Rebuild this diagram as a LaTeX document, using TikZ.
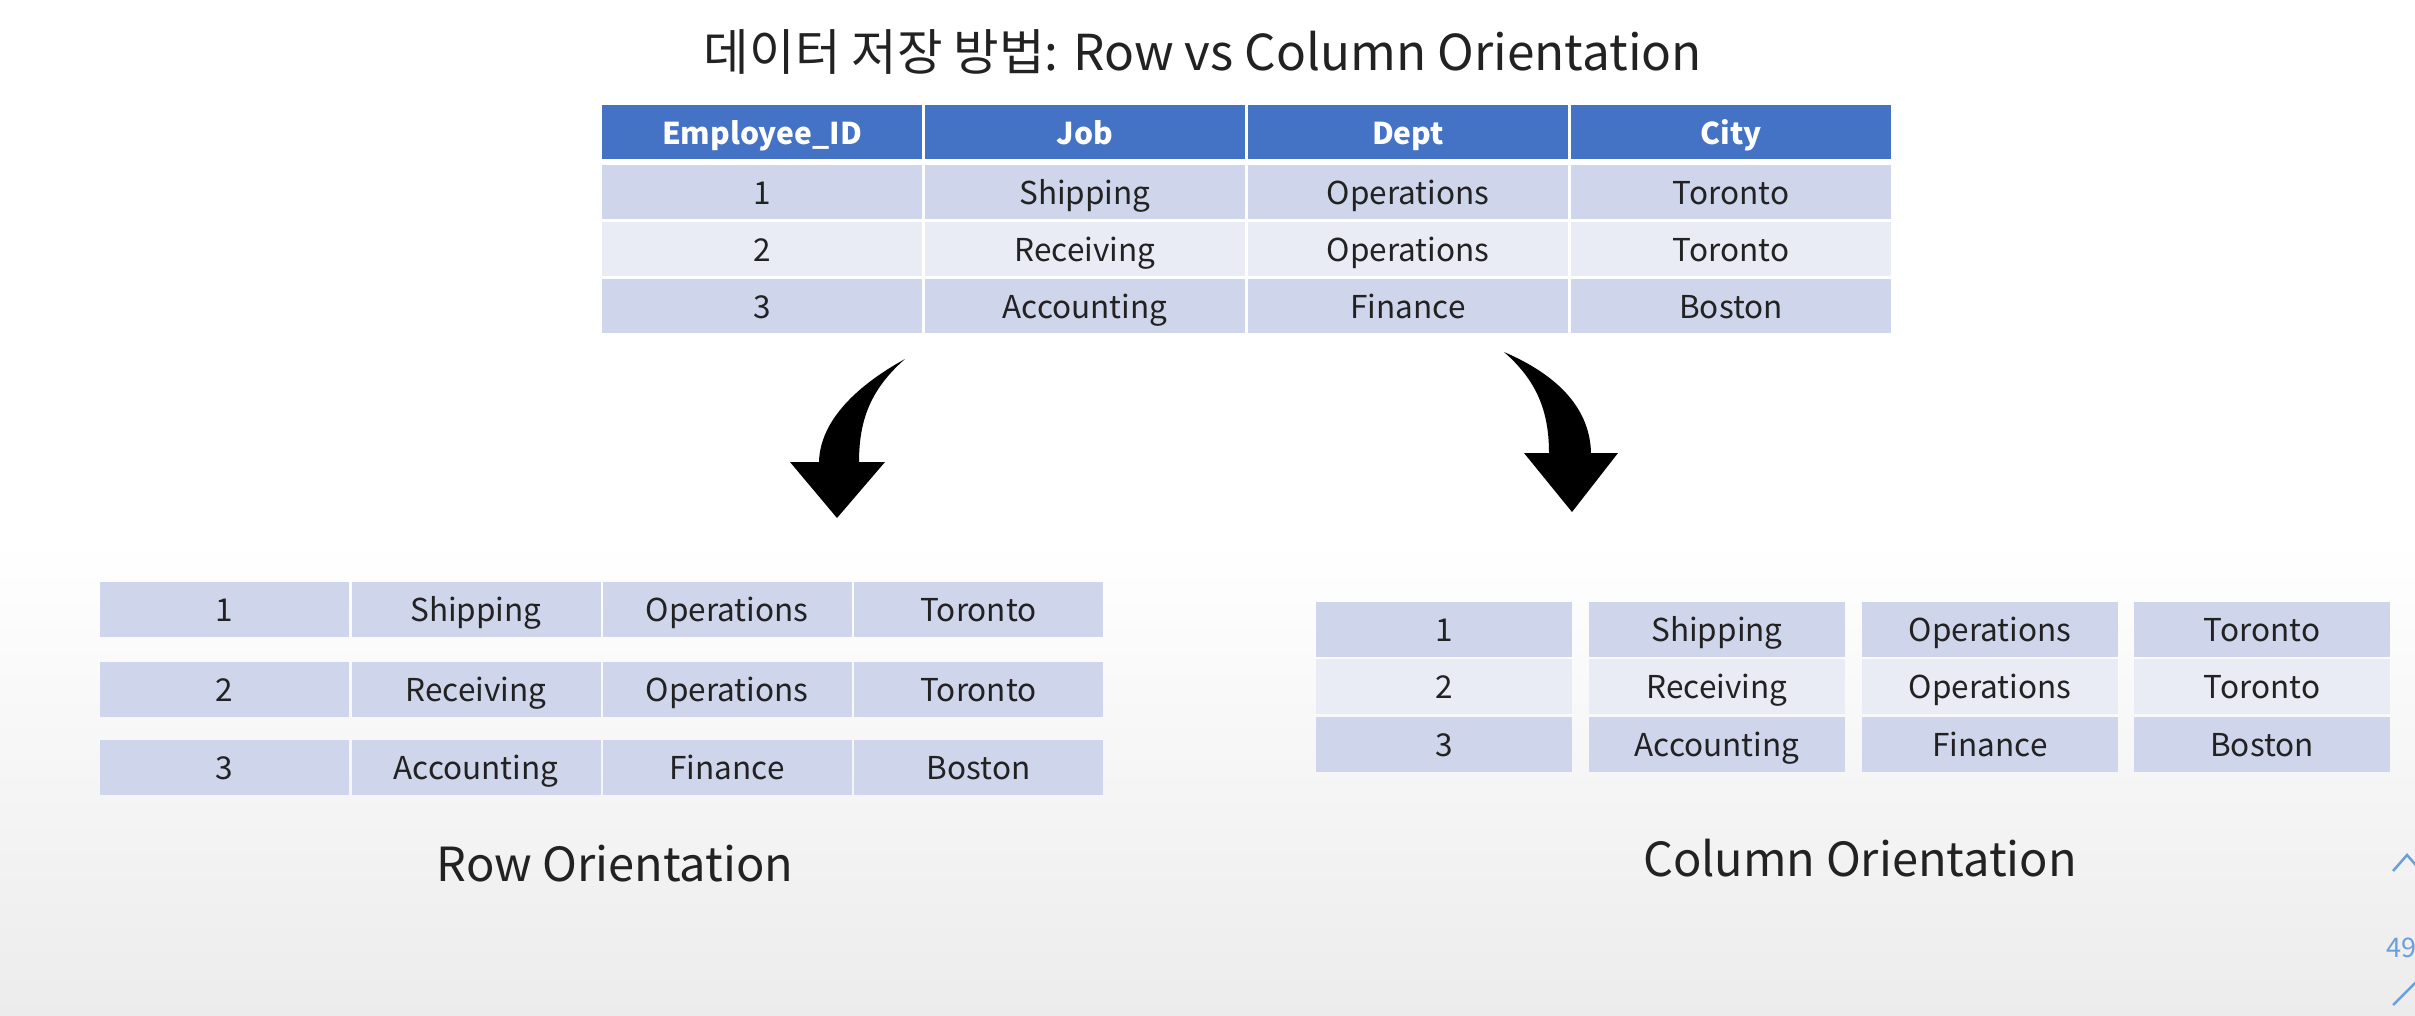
\documentclass[tikz,border=0pt]{standalone}
\usepackage{fontspec}
\setmainfont{Noto Sans CJK KR}
\definecolor{hdrblue}{HTML}{4472C4}
\definecolor{rowdark}{HTML}{CFD5EA}
\definecolor{rowlight}{HTML}{E9EBF5}
\definecolor{txt}{HTML}{222222}
\definecolor{bgbot}{HTML}{ECECEC}
\definecolor{uiblue}{HTML}{6C9EDB}
\begin{document}
\begin{tikzpicture}[x=1pt,y=-1pt,
  cellbase/.style={rectangle, inner sep=0pt, text=txt, text height=29pt, text depth=5pt,
    font=\fontsize{31.5}{38}\selectfont},
  topcell/.style={cellbase, minimum width=320pt, minimum height=54pt},
  hdrcell/.style={topcell, fill=hdrblue, text=white, font=\fontsize{30}{36}\selectfont\bfseries},
  rowcell/.style={cellbase, minimum width=249pt, minimum height=55pt, fill=rowdark},
  colcell/.style={cellbase, minimum width=256pt, minimum height=55pt},
  caption/.style={anchor=base, text=txt, font=\fontsize{47}{56}\selectfont},
  titletext/.style={anchor=base, text=txt, font=\fontsize{49.5}{58}\selectfont},
  bigarrow/.style={fill=black}
]
\useasboundingbox (0,0) rectangle (2415,1015);
\fill[white] (0,0) rectangle (2415,1015);
\shade[top color=white, bottom color=bgbot] (0,540) rectangle (2415,1015);

% title
\node[titletext] (title) at (1203,70) {데이터 저장 방법: Row vs Column Orientation};

% top table
\foreach \x/\t [count=\c] in {762/Employee\_ID, 1085/Job, 1408/Dept, 1731/City}
  \node[hdrcell] (top-h-\c) at (\x,132) {\t};
\foreach \y/\a/\b/\e/\d/\s [count=\r] in {192/1/Shipping/Operations/Toronto/rowdark,
    249/2/Receiving/Operations/Toronto/rowlight, 306/3/Accounting/Finance/Boston/rowdark}{
  \node[topcell, fill=\s] (top-\r-1) at (762,\y) {\a};
  \node[topcell, fill=\s] (top-\r-2) at (1085,\y) {\b};
  \node[topcell, fill=\s] (top-\r-3) at (1408,\y) {\e};
  \node[topcell, fill=\s] (top-\r-4) at (1731,\y) {\d};
}

% curved arrows
\fill[bigarrow] (905,359) .. controls (858,385) and (820,420) .. (819,462)
  -- (790,462) -- (837,518) -- (885,462) -- (859,462)
  .. controls (859,418) and (872,388) .. (905,359) -- cycle;
\fill[bigarrow] (1504,352) .. controls (1560,376) and (1590,410) .. (1591,453)
  -- (1618,453) -- (1572,512) -- (1524,453) -- (1549,453)
  .. controls (1549,410) and (1536,380) .. (1504,352) -- cycle;

% row orientation
\foreach \y/\a/\b/\e/\d [count=\r] in {609.5/1/Shipping/Operations/Toronto,
    689.5/2/Receiving/Operations/Toronto, 767.5/3/Accounting/Finance/Boston}{
  \node[rowcell] (row-\r-1) at (224.5,\y) {\a};
  \node[rowcell] (row-\r-2) at (476,\y) {\b};
  \node[rowcell] (row-\r-3) at (727,\y) {\e};
  \node[rowcell] (row-\r-4) at (978.5,\y) {\d};
}
\node[caption] (rowcap) at (615,881) {Row Orientation};

% column orientation
\foreach \y/\a/\b/\e/\d/\s [count=\r] in {629.5/1/Shipping/Operations/Toronto/rowdark,
    686.5/2/Receiving/Operations/Toronto/rowlight, 744.5/3/Accounting/Finance/Boston/rowdark}{
  \node[colcell, fill=\s] (col-\r-1) at (1444,\y) {\a};
  \node[colcell, fill=\s] (col-\r-2) at (1717,\y) {\b};
  \node[colcell, fill=\s] (col-\r-3) at (1990,\y) {\e};
  \node[colcell, fill=\s] (col-\r-4) at (2262,\y) {\d};
}
\node[caption] (colcap) at (1860,876) {Column Orientation};

% slide controls at the edge
\draw[uiblue, line width=2.5pt] (2393,871) -- (2407,855) -- (2421,871);
\node[anchor=base west, inner sep=0pt, text=uiblue, font=\fontsize{27}{30}\selectfont] (pg) at (2386,957) {49};
\draw[uiblue, line width=2.5pt] (2393,1005) -- (2418,980);
\end{tikzpicture}
\end{document}
